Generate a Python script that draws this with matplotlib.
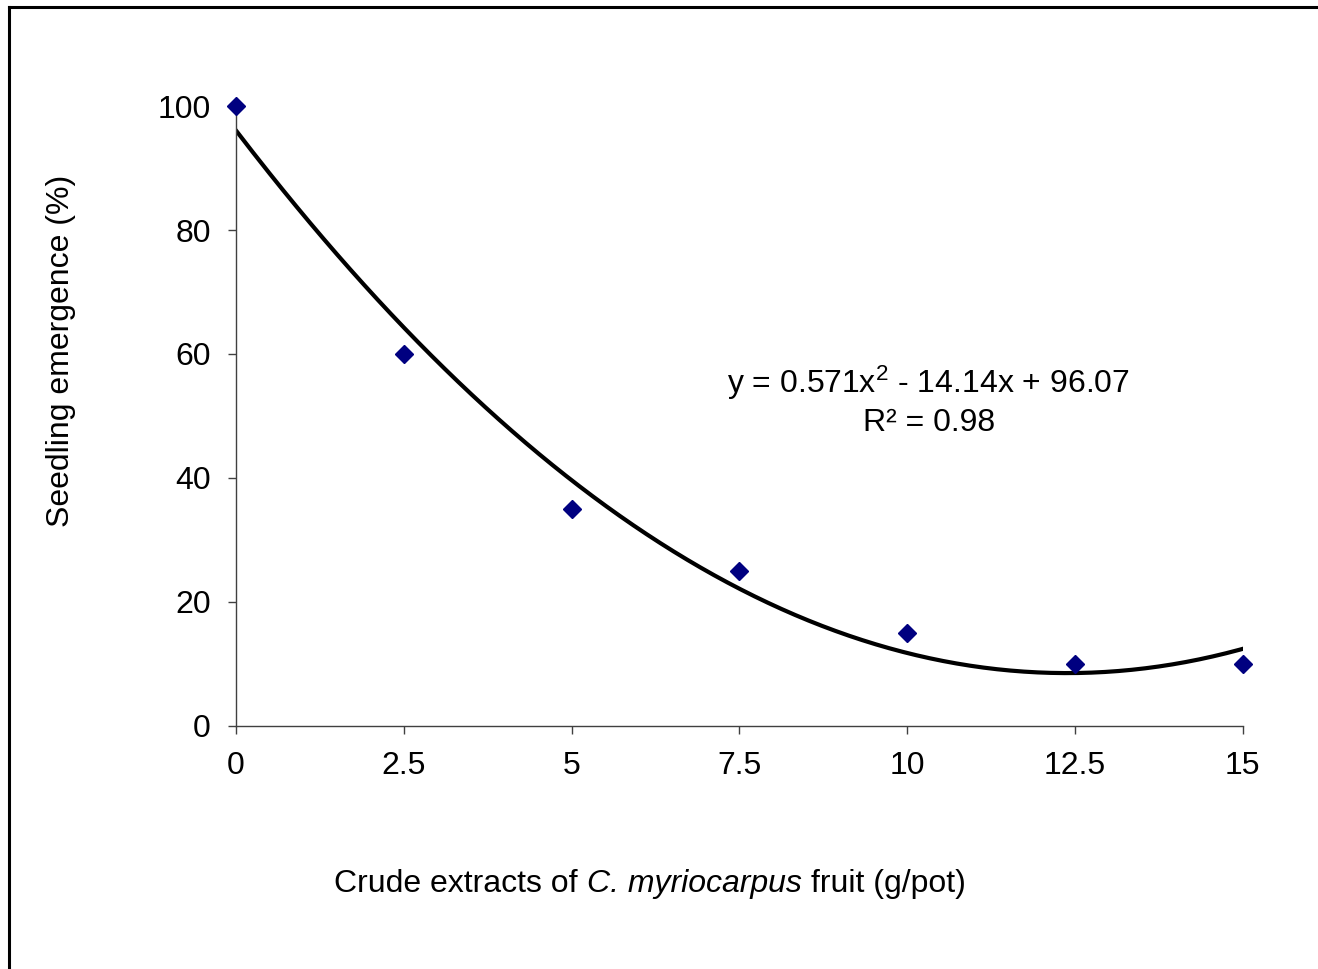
import matplotlib
matplotlib.use("Agg")
import matplotlib.pyplot as plt
import numpy as np
from matplotlib.lines import Line2D

plt.rcParams["font.family"] = ["Liberation Sans", "DejaVu Sans"]
plt.rcParams["mathtext.fontset"] = "custom"
plt.rcParams["mathtext.rm"] = "Liberation Sans"
plt.rcParams["mathtext.it"] = "Liberation Sans:italic"

# data
dose = [0, 2.5, 5, 7.5, 10, 12.5, 15]
emergence = [100, 60, 35, 25, 15, 10, 10]
# quadratic trendline coefficients as printed on the chart
trend_coef = [0.571, -14.14, 96.07]
r_squared = 0.98
xticks = [0, 2.5, 5, 7.5, 10, 12.5, 15]
xtick_labels = ["0", "2.5", "5", "7.5", "10", "12.5", "15"]
yticks = [0, 20, 40, 60, 80, 100]
FS = 23

fig = plt.figure(figsize=(13.18, 9.69), dpi=100)
ax = fig.add_axes([0.179, 0.2508, 0.764, 0.6398])

xs = np.linspace(min(dose), max(dose), 300)
ax.plot(xs, np.polyval(trend_coef, xs), color="black", lw=3, zorder=2)
ax.plot(dose, emergence, "D", color="#000080", ms=9.5, mec="#000080", zorder=3,
        clip_on=False)

ax.set_xlim(0, 15)
ax.set_ylim(0, 100)
ax.set_xticks(xticks)
ax.set_xticklabels(xtick_labels)
ax.set_yticks(yticks)
ax.tick_params(axis="both", labelsize=FS, length=6, width=1, color="#404040",
               direction="out")
ax.tick_params(axis="x", pad=12)
ax.tick_params(axis="y", pad=12)
for s in ("top", "right"):
    ax.spines[s].set_visible(False)
for s in ("left", "bottom"):
    ax.spines[s].set_color("#404040")
    ax.spines[s].set_linewidth(1)

a, b, c = trend_coef
ax.text(0.688, 0.524, f"y = {a:.3f}x$^2$ - {abs(b):.2f}x + {c:.2f}\nR² = {r_squared:.2f}",
        transform=ax.transAxes, ha="center", va="center", fontsize=FS,
        linespacing=1.25)

# x label in three pieces so the italic species name keeps normal spacing
parts = [("Crude extracts of ", "normal"), ("C. myriocarpus", "italic"), (" fruit (g/pot)", "normal")]
renderer = fig.canvas.get_renderer()
widths = []
for txt, style in parts:
    t = fig.text(0, 0, txt, fontsize=FS, style=style)
    widths.append(t.get_window_extent(renderer).width)
    t.remove()
x0 = 650 - sum(widths) / 2
for (txt, style), w in zip(parts, widths):
    fig.text(x0 / 1318, 1 - 884 / 969, txt, fontsize=FS, style=style,
             ha="left", va="center")
    x0 += w

fig.text(0.046, 0.638, "Seedling emergence (%)", rotation=90,
         ha="center", va="center", fontsize=FS)

# frame around the figure (only top and left visible in the original crop)
fig.add_artist(Line2D([0.0066, 0.0066], [0, 0.9928], transform=fig.transFigure,
                      color="black", lw=2.2))
fig.add_artist(Line2D([0.0066, 1], [0.9928, 0.9928], transform=fig.transFigure,
                      color="black", lw=2.2))

fig.savefig("out.png", dpi=100)
